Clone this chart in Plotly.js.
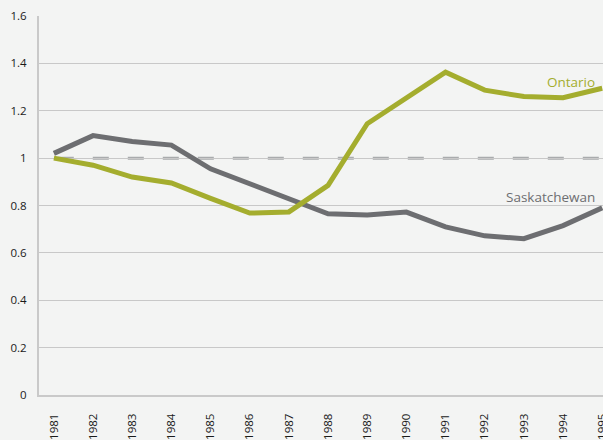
<!DOCTYPE html>
<html>
<head>
<meta charset="utf-8">
<script src="https://cdn.plot.ly/plotly-3.0.1.min.js"></script>
<style>
  html, body { margin: 0; padding: 0; background: #f3f4f3; overflow: hidden; }
  #chart { width: 603px; height: 440px; }
</style>
</head>
<body>
<div id="chart"></div>
<script>
const years = [1981, 1982, 1983, 1984, 1985, 1986, 1987, 1988, 1989, 1990, 1991, 1992, 1993, 1994, 1995];
const ontario = [1.0, 0.97, 0.92, 0.895, 0.83, 0.768, 0.773, 0.885, 1.145, 1.255, 1.363, 1.287, 1.26, 1.255, 1.295];
const saskatchewan = [1.02, 1.095, 1.07, 1.055, 0.955, 0.89, 0.83, 0.765, 0.76, 0.772, 0.71, 0.672, 0.66, 0.715, 0.79];
const yTicks = [0, 0.2, 0.4, 0.6, 0.8, 1, 1.2, 1.4, 1.6];
const seriesNames = ['Ontario', 'Saskatchewan'];

const green = '#a4ad2e';
const grey = '#6d6e71';

const traces = [
  {
    x: years, y: saskatchewan, type: 'scatter', mode: 'lines', name: seriesNames[1],
    line: { color: grey, width: 5 }, hoverinfo: 'skip', cliponaxis: false
  },
  {
    x: years, y: ontario, type: 'scatter', mode: 'lines', name: seriesNames[0],
    line: { color: green, width: 5 }, hoverinfo: 'skip', cliponaxis: false
  }
];

const layout = {
  width: 603, height: 440,
  margin: { l: 39, r: 0, t: 16, b: 45 },
  paper_bgcolor: '#f3f4f3',
  plot_bgcolor: '#f3f4f3',
  showlegend: false,
  font: { family: 'Open Sans, sans-serif', size: 11, color: '#1a1a1a' },
  xaxis: {
    range: [1980.62, 1995.02],
    tickmode: 'array', tickvals: years, ticktext: years.map(String),
    tickangle: -90,
    showgrid: false, zeroline: false,
    showline: true, linecolor: '#c9c9c9', linewidth: 2,
    ticks: '', ticklabelstandoff: 12, ticklabeloverflow: 'allow',
    tickfont: { family: 'Open Sans, sans-serif', size: 11.5, color: '#1a1a1a' }
  },
  yaxis: {
    range: [0, 1.6],
    tickmode: 'array', tickvals: yTicks, ticktext: yTicks.map(String),
    showgrid: true, gridcolor: '#c8c8c8', gridwidth: 1,
    zeroline: false,
    showline: true, linecolor: '#c9c9c9', linewidth: 2,
    ticks: '', ticklabelstandoff: 8,
    tickfont: { family: 'Open Sans, sans-serif', size: 11.5, color: '#1a1a1a' }
  },
  shapes: [
    {
      type: 'line', xref: 'x', yref: 'y', x0: 1981.1, x1: 1995.02, y0: 1, y1: 1,
      line: { color: '#a9abad', width: 3, dash: '16px,19px' }, layer: 'below'
    }
  ],
  annotations: [
    {
      xref: 'paper', yref: 'y', x: 0.99, y: 1.32, xanchor: 'right', yanchor: 'middle',
      text: seriesNames[0], showarrow: false,
      font: { family: 'Open Sans, sans-serif', size: 13.5, color: green }
    },
    {
      xref: 'paper', yref: 'y', x: 0.99, y: 0.835, xanchor: 'right', yanchor: 'middle',
      text: seriesNames[1], showarrow: false,
      font: { family: 'Open Sans, sans-serif', size: 13.5, color: grey }
    }
  ]
};

Plotly.newPlot('chart', traces, layout, { staticPlot: true, displayModeBar: false });
</script>
</body>
</html>
